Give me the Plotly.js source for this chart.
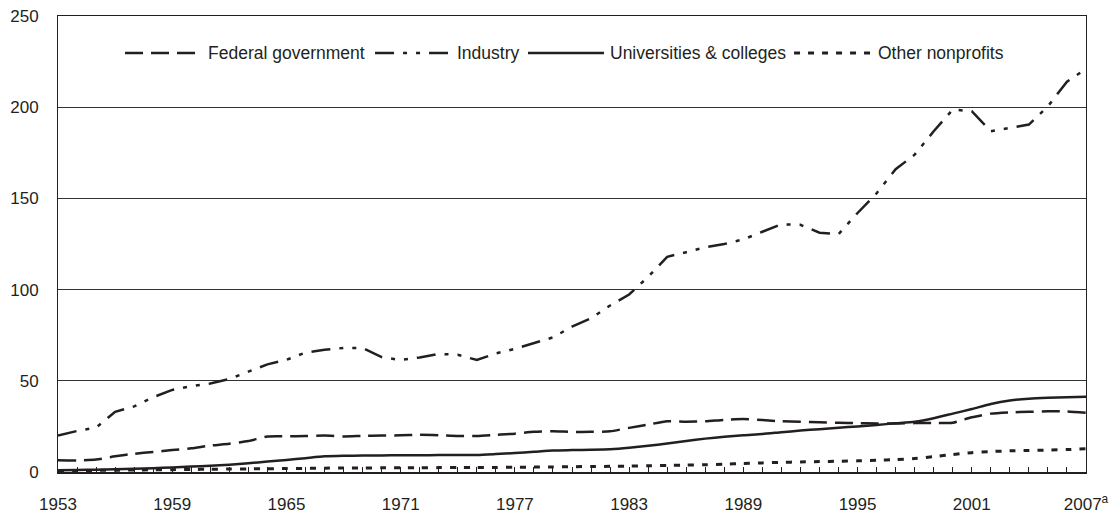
<!DOCTYPE html>
<html>
<head>
<meta charset="utf-8">
<script src="https://cdn.plot.ly/plotly-3.0.1.min.js"></script>
<style>
html,body{margin:0;padding:0;background:#fff;}
#chart{width:1120px;height:516px;}
</style>
</head>
<body>
<div id="chart"></div>
<script>
var years = [1953,1954,1955,1956,1957,1958,1959,1960,1961,1962,1963,1964,1965,1966,1967,1968,1969,1970,1971,1972,1973,1974,1975,1976,1977,1978,1979,1980,1981,1982,1983,1984,1985,1986,1987,1988,1989,1990,1991,1992,1993,1994,1995,1996,1997,1998,1999,2000,2001,2002,2003,2004,2005,2006,2007];

var federal = [6.4,6.3,6.8,8.6,10.0,11.0,12.0,13.0,14.5,15.5,17.0,19.5,19.6,19.7,20.0,19.5,19.8,20.0,20.1,20.4,20.2,19.8,19.8,20.4,21.0,22.0,22.3,22.0,22.0,22.3,24.2,26.0,27.8,27.6,27.8,28.6,29.0,28.5,27.8,27.6,27.3,27.0,26.8,26.6,26.6,26.8,26.9,27.0,30.0,32.0,32.7,33.0,33.3,33.2,32.4];

var industry = [20,22.5,24.3,33,36,41,45,47,48.5,51,55,59,61.5,65.5,67,68,68,63,61.4,62.8,64.7,64.3,61.4,65,67.5,70.5,73.8,79.7,84.3,91.3,97.3,107,118,120.5,123.2,125,127.5,131.7,135.8,135.5,131.2,130.4,142,152.8,166,174,186.8,198.7,197.8,186.8,188.8,190.5,200.5,214,221];

var universities = [1.0,1.1,1.3,1.5,1.8,2.1,2.5,3.0,3.4,4.0,4.8,5.7,6.6,7.6,8.6,8.9,9.0,9.1,9.2,9.2,9.3,9.3,9.3,9.8,10.4,11.1,11.8,12.0,12.2,12.5,13.3,14.4,15.6,17.0,18.3,19.3,20.2,20.8,21.8,22.7,23.5,24.3,25.0,25.8,26.7,27.6,29.5,32.0,34.5,37.3,39.2,40.2,40.7,41.0,41.2];

var nonprofits = [0.8,0.8,0.9,1.0,1.1,1.2,1.3,1.4,1.5,1.6,1.7,1.8,1.9,2.0,2.1,2.2,2.2,2.3,2.3,2.3,2.4,2.4,2.5,2.5,2.6,2.7,2.8,2.9,3.0,3.1,3.2,3.4,3.6,3.8,4.0,4.3,4.7,5.0,5.3,5.5,5.7,5.9,6.1,6.4,6.8,7.4,8.4,9.6,10.6,11.2,11.6,11.8,12.0,12.3,12.7];

var seriesNames = ["Federal government","Industry","Universities &amp; colleges","Other nonprofits"];
var xTickVals = [1953,1959,1965,1971,1977,1983,1989,1995,2001,2007];
var xTickLabels = ["1953","1959","1965","1971","1977","1983","1989","1995","2001","2007<sup>a</sup>"];
var yTickVals = [0,50,100,150,200,250];

var INK = '#231f20';
var FONT = '"Liberation Sans",Arial,Helvetica,sans-serif';
var dashes = ['18px,8px','19px,9px,4px,9px,4px,9px','solid','6px,8px'];
var widths = [2.5,2.5,2.5,3];
var shapesLine = ['spline','linear','spline','spline'];
var data = [federal, industry, universities, nonprofits];

var traces = data.map(function(v,i){
  return {x: years, y: v, type:'scatter', mode:'lines', name: seriesNames[i],
    line:{color: INK, width: widths[i], dash: dashes[i], shape: shapesLine[i], smoothing: 0.6},
    showlegend:false, hoverinfo:'x+y'};
});

// manual legend (layout decoration)
var legX = [[0.0652,0.1362],[0.3084,0.3823],[0.4572,0.5311],[0.7160,0.7918]];
var legTextX = [0.1440,0.3862,0.5350,0.7960];
var legY = 0.9188;
var shapes = [], annotations = [];
for (var i=0;i<4;i++){
  shapes.push({type:'line', xref:'paper', yref:'paper', x0:legX[i][0], x1:legX[i][1], y0:legY, y1:legY,
    line:{color:INK, width:widths[i], dash:dashes[i]}});
  annotations.push({xref:'paper', yref:'paper', x:legTextX[i], y:legY, xanchor:'left', yanchor:'middle',
    text: seriesNames[i], showarrow:false, font:{family:FONT, size:17.5, color:INK}});
}

var layout = {
  width:1120, height:516,
  margin:{l:58, r:34, t:16, b:44},
  paper_bgcolor:'#fff', plot_bgcolor:'#fff',
  font:{family:FONT, size:17, color:INK},
  showlegend:false,
  xaxis:{range:[1953,2007], tickvals: xTickVals, ticktext: xTickLabels, tickmode:'array',
    ticks:'inside', ticklen:5, tickwidth:1, tickcolor:INK,
    minor:{dtick:1, tick0:1953, ticks:'inside', ticklen:5, tickwidth:1, tickcolor:INK, showgrid:false},
    showline:true, linecolor:INK, linewidth:1.5, mirror:true,
    showgrid:false, zeroline:false, ticklabelstandoff:16,
    tickfont:{family:FONT, size:17, color:INK}},
  yaxis:{range:[0,250], tickvals: yTickVals, tickmode:'array', ticks:'',
    showline:true, linecolor:INK, linewidth:1, mirror:true,
    showgrid:true, gridcolor:'#333', gridwidth:1, zeroline:false,
    ticklabelstandoff:15,
    tickfont:{family:FONT, size:17, color:INK}},
  shapes: shapes,
  annotations: annotations
};

Plotly.newPlot('chart', traces, layout, {staticPlot:true, displayModeBar:false});
</script>
</body>
</html>
